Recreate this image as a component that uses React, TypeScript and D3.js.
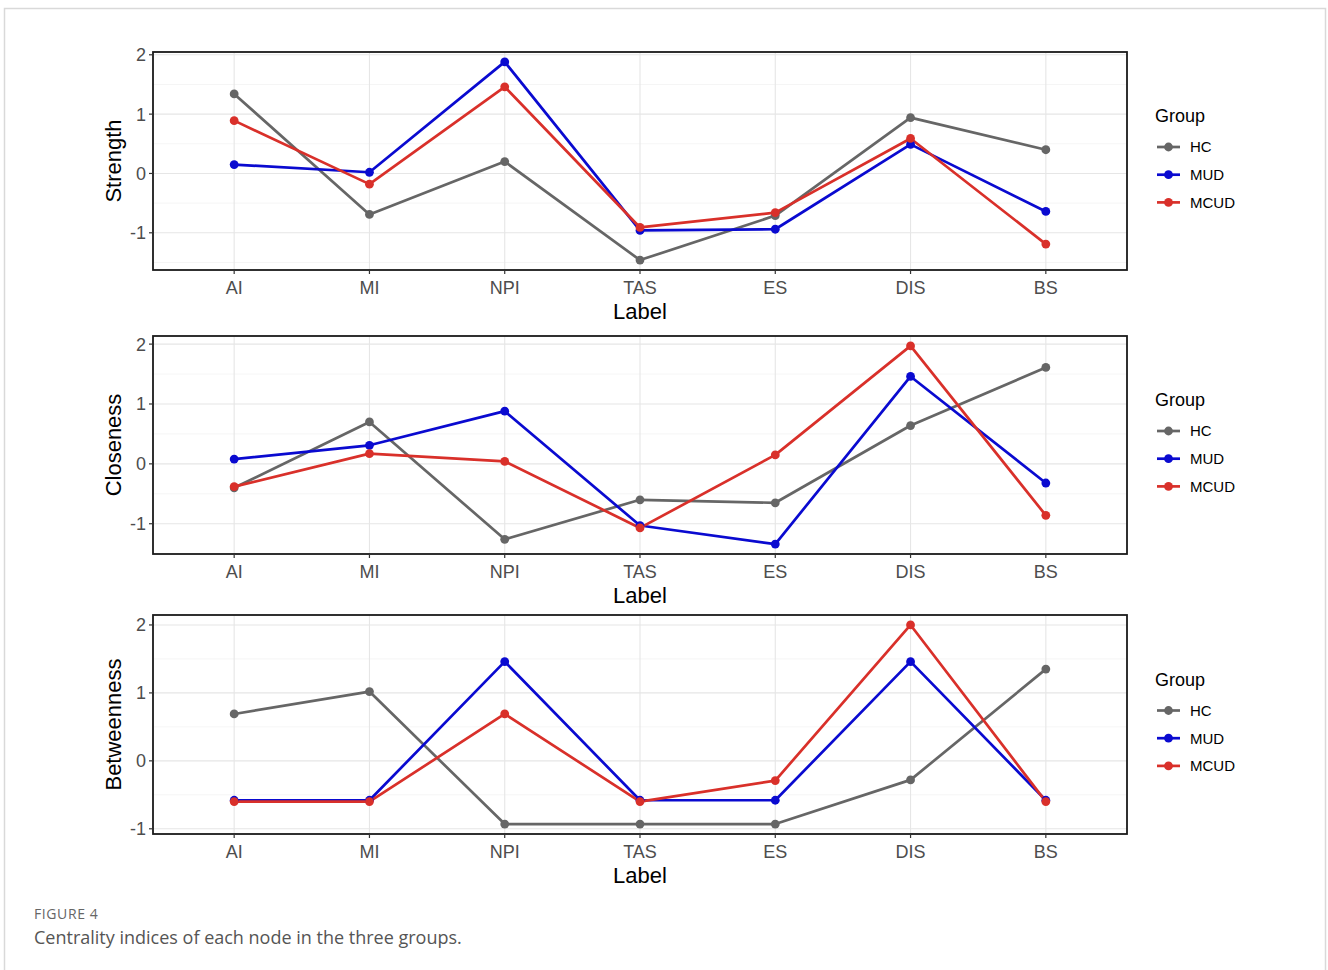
import React from "react";
import * as d3 from "d3";

const labels = ["AI", "MI", "NPI", "TAS", "ES", "DIS", "BS"];
const groups = ["HC", "MUD", "MCUD"];
const groupColors = ["#666666", "#0a0ad0", "#d9302a"];

const strengthHC = [1.34, -0.69, 0.2, -1.46, -0.71, 0.94, 0.4];
const strengthMUD = [0.15, 0.02, 1.88, -0.96, -0.94, 0.49, -0.64];
const strengthMCUD = [0.89, -0.18, 1.46, -0.91, -0.66, 0.59, -1.19];

const closenessHC = [-0.4, 0.7, -1.26, -0.6, -0.65, 0.64, 1.61];
const closenessMUD = [0.08, 0.31, 0.88, -1.03, -1.34, 1.46, -0.32];
const closenessMCUD = [-0.38, 0.17, 0.04, -1.07, 0.15, 1.97, -0.86];

const betweennessHC = [0.69, 1.02, -0.93, -0.93, -0.93, -0.28, 1.35];
const betweennessMUD = [-0.58, -0.58, 1.46, -0.58, -0.58, 1.46, -0.58];
const betweennessMCUD = [-0.6, -0.6, 0.69, -0.6, -0.29, 2.0, -0.6];

const yTicks = [-1, 0, 1, 2];

const panels = [
  { metric: "Strength", series: [strengthHC, strengthMUD, strengthMCUD], top: 52, bottom: 270 },
  { metric: "Closeness", series: [closenessHC, closenessMUD, closenessMCUD], top: 336, bottom: 554 },
  { metric: "Betweenness", series: [betweennessHC, betweennessMUD, betweennessMCUD], top: 615, bottom: 834 },
];

const LEFT = 153;
const RIGHT = 1127;
const FONT = "'Liberation Sans', Arial, Helvetica, sans-serif";

function Panel({ p }: { p: (typeof panels)[number] }) {
  const x = d3.scalePoint<string>().domain(labels).range([LEFT, RIGHT]).padding(0.6);
  const all = p.series.flat();
  const mn = d3.min(all) as number;
  const mx = d3.max(all) as number;
  const ex = (mx - mn) * 0.05;
  const y = d3.scaleLinear().domain([mn - ex, mx + ex]).range([p.bottom, p.top]);
  const [d0, d1] = y.domain();
  const minor: number[] = [];
  for (let v = Math.ceil(d0 * 2) / 2; v <= d1; v += 0.5) {
    if (Math.abs(v - Math.round(v)) > 0.01) minor.push(v);
  }
  const majors = yTicks.filter((t) => t >= d0 && t <= d1);
  const line = d3
    .line<number>()
    .x((_, i) => x(labels[i]) as number)
    .y((d) => y(d));
  const midY = (p.top + p.bottom) / 2;
  const legTop = midY - 45;
  return (
    <g>
      {minor.map((v) => (
        <line key={"mn" + v} x1={LEFT} x2={RIGHT} y1={y(v)} y2={y(v)} stroke="#f2f2f2" strokeWidth={0.8} />
      ))}
      {majors.map((v) => (
        <line key={"mj" + v} x1={LEFT} x2={RIGHT} y1={y(v)} y2={y(v)} stroke="#e6e6e6" strokeWidth={1.1} />
      ))}
      {labels.map((l) => (
        <line key={"vx" + l} x1={x(l)} x2={x(l)} y1={p.top} y2={p.bottom} stroke="#e6e6e6" strokeWidth={1.1} />
      ))}
      {p.series.map((s, gi) => (
        <path key={"l" + gi} d={line(s) || ""} fill="none" stroke={groupColors[gi]} strokeWidth={2.7} strokeLinejoin="round" />
      ))}
      {p.series.map((s, gi) =>
        s.map((v, i) => (
          <circle key={"c" + gi + "-" + i} cx={x(labels[i])} cy={y(v)} r={4.4} fill={groupColors[gi]} />
        ))
      )}
      <rect x={LEFT} y={p.top} width={RIGHT - LEFT} height={p.bottom - p.top} fill="none" stroke="#1a1a1a" strokeWidth={1.8} />
      {majors.map((v) => (
        <g key={"yt" + v}>
          <line x1={LEFT - 4} x2={LEFT} y1={y(v)} y2={y(v)} stroke="#333" strokeWidth={1.2} />
          <text x={LEFT - 7} y={y(v)} dy="0.36em" textAnchor="end" fontSize={18} fill="#4d4d4d" fontFamily={FONT}>
            {v}
          </text>
        </g>
      ))}
      {labels.map((l) => (
        <g key={"xt" + l}>
          <line x1={x(l)} x2={x(l)} y1={p.bottom} y2={p.bottom + 4} stroke="#333" strokeWidth={1.2} />
          <text x={x(l)} y={p.bottom + 24} textAnchor="middle" fontSize={18} fill="#4d4d4d" fontFamily={FONT}>
            {l}
          </text>
        </g>
      ))}
      <text x={(LEFT + RIGHT) / 2} y={p.bottom + 49} textAnchor="middle" fontSize={22} fill="#000" fontFamily={FONT}>
        Label
      </text>
      <text
        transform={`translate(121,${midY}) rotate(-90)`}
        textAnchor="middle"
        fontSize={22}
        fill="#000"
        fontFamily={FONT}
      >
        {p.metric}
      </text>
      <g>
        <text x={1155} y={legTop + 6} fontSize={18} fill="#000" fontFamily={FONT}>
          Group
        </text>
        {groups.map((g, gi) => {
          const iy = legTop + 31 + gi * 27.7;
          return (
            <g key={"lg" + g}>
              <line x1={1157} x2={1180} y1={iy} y2={iy} stroke={groupColors[gi]} strokeWidth={2.7} />
              <circle cx={1168.5} cy={iy} r={4.4} fill={groupColors[gi]} />
              <text x={1190} y={iy} dy="0.36em" fontSize={15} fill="#000" fontFamily={FONT}>
                {g}
              </text>
            </g>
          );
        })}
      </g>
    </g>
  );
}

export default function App() {
  return (
    <div style={{ position: "absolute", left: 0, top: 0 }}>
      <svg width={1328} height={970} style={{ display: "block", background: "#fff" }}>
        <rect x={4.5} y={8.5} width={1321} height={980} fill="#fff" stroke="#d9d9d9" strokeWidth={1.5} />
        {panels.map((p) => (
          <Panel key={p.metric} p={p} />
        ))}
        <text x={34} y={919} fontSize={14} letterSpacing={0.6} fill="#666" fontFamily="'Open Sans', Lato, sans-serif">
          FIGURE 4
        </text>
        <text x={34} y={944} fontSize={18} fill="#555" fontFamily="'Open Sans', Lato, sans-serif">
          Centrality indices of each node in the three groups.
        </text>
      </svg>
    </div>
  );
}
